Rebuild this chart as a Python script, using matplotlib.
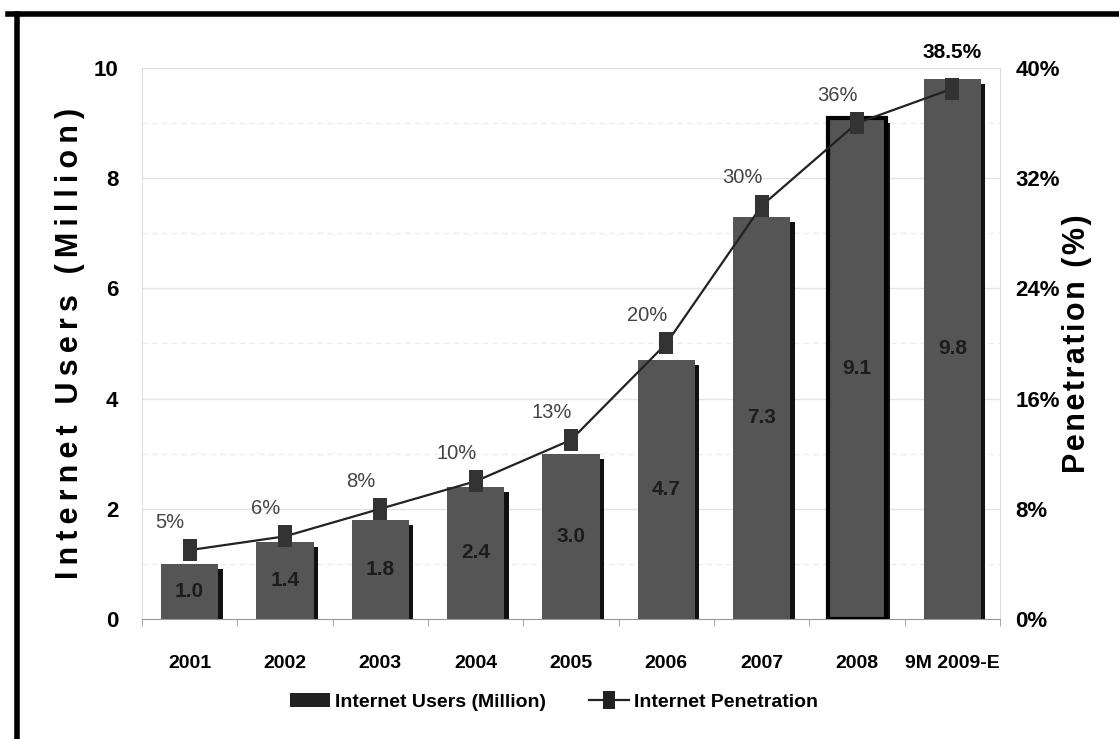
import matplotlib
matplotlib.use("Agg")
import matplotlib.pyplot as plt
from matplotlib.lines import Line2D
from matplotlib.patches import Patch
import numpy as np

# data
years = ["2001", "2002", "2003", "2004", "2005", "2006", "2007", "2008", "9M 2009-E"]
users = [1.0, 1.4, 1.8, 2.4, 3.0, 4.7, 7.3, 9.1, 9.8]
user_labels = ["1.0", "1.4", "1.8", "2.4", "3.0", "4.7", "7.3", "9.1", "9.8"]
penetration = [5, 6, 8, 10, 13, 20, 30, 36, 38.5]
pen_labels = ["5%", "6%", "8%", "10%", "13%", "20%", "30%", "36%", "38.5%"]
left_ticks = [0, 2, 4, 6, 8, 10]
right_ticks = [0, 8, 16, 24, 32, 40]

FONT = ["Liberation Sans", "DejaVu Sans"]


def spaced(s, gap="\u2009"):
    # the reference axis titles are widely letter-spaced
    return gap.join(s)


fig = plt.figure(figsize=(11.19, 7.39), dpi=100)
ax = fig.add_axes([0.1269, 0.1624, 0.7668, 0.7456])
ax2 = ax.twinx()

x = np.arange(len(years))
w = 0.6

# bars with a dark drop shadow on the right
ax.bar(x + 0.045, [v - 0.09 for v in users], width=w, color="#111111", zorder=2)
bars = ax.bar(x, users, width=w, color="#555555", zorder=3)
bars[7].set_edgecolor("black")
bars[7].set_linewidth(3)

for i, v in enumerate(users):
    ax.text(x[i], min(v / 2, 6.2), user_labels[i], ha="center", va="center",
            fontsize=15, fontweight="bold", color="#1c1c1c", family=FONT, zorder=5)

# gridlines
for g in [2, 4, 6, 8]:
    ax.axhline(g, color="#e4e4e4", lw=1, zorder=0)
for g in [1, 3, 5, 7, 9]:
    ax.axhline(g, color="#ececec", lw=1, ls=(0, (4, 3)), zorder=0)

ax.set_xlim(-0.5, len(years) - 0.5)
ax.set_ylim(0, 10)
ax.set_yticks(left_ticks)
ax.set_yticklabels([str(t) for t in left_ticks], fontsize=16, fontweight="bold", family=FONT)
ax.tick_params(axis="y", length=0, pad=17)
ax.set_xticks(x)
ax.set_xticklabels(years, fontsize=14, fontweight="bold", family=FONT)
ax.set_xticks(np.arange(len(years) + 1) - 0.5, minor=True)
ax.tick_params(axis="x", which="major", length=0, pad=26)
ax.tick_params(axis="x", which="minor", length=5, color="#999999", direction="out")

for s in ["left", "top", "right"]:
    ax.spines[s].set_color("#dddddd")
ax.spines["bottom"].set_color("#999999")

ax.set_ylabel(spaced("Internet Users (Million)"), fontsize=22, fontweight="bold", family=FONT)
ax.yaxis.set_label_coords(-0.066, 0.5)

# penetration line
rect = [(-0.33, -0.5), (0.33, -0.5), (0.33, 0.5), (-0.33, 0.5), (-0.33, -0.5)]
ax2.plot(x, penetration, color="#222222", lw=1.6, marker=rect, markersize=16,
         markerfacecolor="#333333", markeredgewidth=0, zorder=6)
ax2.set_ylim(0, 40)
ax2.set_yticks(right_ticks)
ax2.set_yticklabels([f"{t}%" for t in right_ticks], fontsize=16, fontweight="bold", family=FONT)
ax2.tick_params(axis="y", length=0, pad=11)
for s in ax2.spines.values():
    s.set_visible(False)
ax2.set_ylabel(spaced("Penetration (%)", "\u200a"), fontsize=22, fontweight="bold",
               family=FONT, rotation=90)
ax2.yaxis.set_label_coords(1.072, 0.5)

for i, p in enumerate(penetration):
    if i == len(penetration) - 1:
        ax2.annotate(pen_labels[i], (x[i], p), xytext=(0, 26), textcoords="offset points",
                     ha="center", va="center", fontsize=15, fontweight="bold",
                     color="black", family=FONT)
    else:
        ax2.annotate(pen_labels[i], (x[i], p), xytext=(-14, 20), textcoords="offset points",
                     ha="center", va="center", fontsize=14.5, color="#444444", family=FONT)

# legend below the axes
handles = [Patch(facecolor="#222222", edgecolor="none"),
           Line2D([0], [0], color="#222222", lw=1.6, marker=rect, markersize=13,
                  markerfacecolor="#222222", markeredgewidth=0)]
fig.legend(handles, ["Internet Users (Million)", "Internet Penetration"],
           loc="center", bbox_to_anchor=(0.495, 0.05), ncol=2, frameon=False,
           prop={"family": FONT, "weight": "bold", "size": 14},
           handlelength=2.05, handletextpad=0.25, columnspacing=2.2)

# outer frame (top and left edges only)
fig.add_artist(Line2D([0.007, 1.0], [0.981, 0.981], color="black", lw=4, transform=fig.transFigure))
fig.add_artist(Line2D([0.0155, 0.0155], [0.0, 0.981], color="black", lw=4, transform=fig.transFigure))

fig.savefig("out.png", dpi=100)
